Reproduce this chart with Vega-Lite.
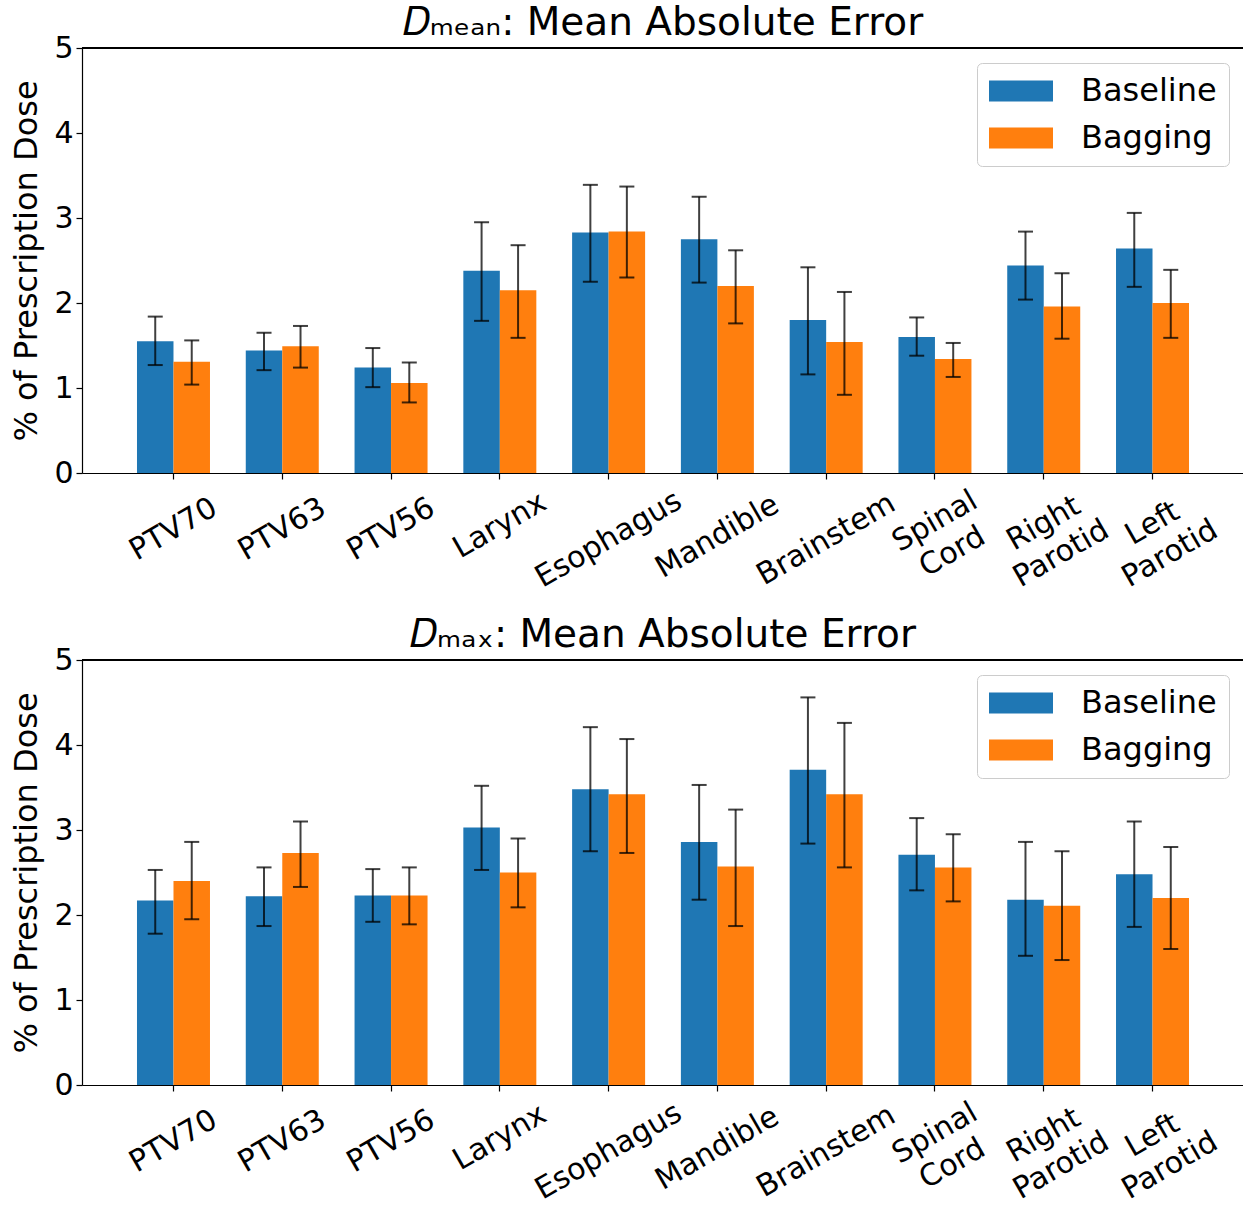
{
  "$schema": "https://vega.github.io/schema/vega-lite/v6.json",
  "padding": {"left": 10, "top": 4, "right": 0, "bottom": 0},
  "spacing": 23,
  "config": {
    "view": {"stroke": null},
    "font": "DejaVu Sans",
    "axisY": {"grid": false, "domainColor": "black", "domainWidth": 1.2, "tickColor": "black", "tickWidth": 1.2, "tickSize": 6, "labelPadding": 3, "labelFontSize": 30, "labelColor": "black", "labelFont": "DejaVu Sans", "titleFontSize": 32, "titleFontWeight": "normal", "titleColor": "black", "titleFont": "DejaVu Sans", "titlePadding": 10},
    "title": {"fontSize": 39, "fontWeight": "normal", "font": "DejaVu Sans", "color": "black", "anchor": "middle", "baseline": "alphabetic", "offset": -10, "frame": "group"}
  },
  "resolve": {"legend": {"color": "independent"}},
  "datasets": {
    "d": [
      {"panel": "Dmean", "organ": "PTV70", "method": "Baseline", "mean": 1.55, "lo": 1.27, "hi": 1.84},
      {"panel": "Dmean", "organ": "PTV70", "method": "Bagging", "mean": 1.31, "lo": 1.04, "hi": 1.56},
      {"panel": "Dmean", "organ": "PTV63", "method": "Baseline", "mean": 1.44, "lo": 1.21, "hi": 1.65},
      {"panel": "Dmean", "organ": "PTV63", "method": "Bagging", "mean": 1.49, "lo": 1.24, "hi": 1.73},
      {"panel": "Dmean", "organ": "PTV56", "method": "Baseline", "mean": 1.24, "lo": 1.01, "hi": 1.47},
      {"panel": "Dmean", "organ": "PTV56", "method": "Bagging", "mean": 1.06, "lo": 0.83, "hi": 1.30},
      {"panel": "Dmean", "organ": "Larynx", "method": "Baseline", "mean": 2.38, "lo": 1.79, "hi": 2.95},
      {"panel": "Dmean", "organ": "Larynx", "method": "Bagging", "mean": 2.15, "lo": 1.59, "hi": 2.68},
      {"panel": "Dmean", "organ": "Esophagus", "method": "Baseline", "mean": 2.83, "lo": 2.25, "hi": 3.39},
      {"panel": "Dmean", "organ": "Esophagus", "method": "Bagging", "mean": 2.84, "lo": 2.30, "hi": 3.37},
      {"panel": "Dmean", "organ": "Mandible", "method": "Baseline", "mean": 2.75, "lo": 2.24, "hi": 3.25},
      {"panel": "Dmean", "organ": "Mandible", "method": "Bagging", "mean": 2.20, "lo": 1.76, "hi": 2.62},
      {"panel": "Dmean", "organ": "Brainstem", "method": "Baseline", "mean": 1.80, "lo": 1.16, "hi": 2.42},
      {"panel": "Dmean", "organ": "Brainstem", "method": "Bagging", "mean": 1.54, "lo": 0.92, "hi": 2.13},
      {"panel": "Dmean", "organ": "Spinal Cord", "method": "Baseline", "mean": 1.60, "lo": 1.38, "hi": 1.83},
      {"panel": "Dmean", "organ": "Spinal Cord", "method": "Bagging", "mean": 1.34, "lo": 1.13, "hi": 1.53},
      {"panel": "Dmean", "organ": "Right Parotid", "method": "Baseline", "mean": 2.44, "lo": 2.04, "hi": 2.84},
      {"panel": "Dmean", "organ": "Right Parotid", "method": "Bagging", "mean": 1.96, "lo": 1.58, "hi": 2.35},
      {"panel": "Dmean", "organ": "Left Parotid", "method": "Baseline", "mean": 2.64, "lo": 2.19, "hi": 3.06},
      {"panel": "Dmean", "organ": "Left Parotid", "method": "Bagging", "mean": 2.00, "lo": 1.59, "hi": 2.39},
      {"panel": "Dmax", "organ": "PTV70", "method": "Baseline", "mean": 2.17, "lo": 1.78, "hi": 2.53},
      {"panel": "Dmax", "organ": "PTV70", "method": "Bagging", "mean": 2.40, "lo": 1.95, "hi": 2.86},
      {"panel": "Dmax", "organ": "PTV63", "method": "Baseline", "mean": 2.22, "lo": 1.87, "hi": 2.56},
      {"panel": "Dmax", "organ": "PTV63", "method": "Bagging", "mean": 2.73, "lo": 2.33, "hi": 3.10},
      {"panel": "Dmax", "organ": "PTV56", "method": "Baseline", "mean": 2.23, "lo": 1.92, "hi": 2.54},
      {"panel": "Dmax", "organ": "PTV56", "method": "Bagging", "mean": 2.23, "lo": 1.89, "hi": 2.56},
      {"panel": "Dmax", "organ": "Larynx", "method": "Baseline", "mean": 3.03, "lo": 2.53, "hi": 3.52},
      {"panel": "Dmax", "organ": "Larynx", "method": "Bagging", "mean": 2.50, "lo": 2.09, "hi": 2.90},
      {"panel": "Dmax", "organ": "Esophagus", "method": "Baseline", "mean": 3.48, "lo": 2.75, "hi": 4.21},
      {"panel": "Dmax", "organ": "Esophagus", "method": "Bagging", "mean": 3.42, "lo": 2.73, "hi": 4.07},
      {"panel": "Dmax", "organ": "Mandible", "method": "Baseline", "mean": 2.86, "lo": 2.18, "hi": 3.53},
      {"panel": "Dmax", "organ": "Mandible", "method": "Bagging", "mean": 2.57, "lo": 1.87, "hi": 3.24},
      {"panel": "Dmax", "organ": "Brainstem", "method": "Baseline", "mean": 3.71, "lo": 2.84, "hi": 4.56},
      {"panel": "Dmax", "organ": "Brainstem", "method": "Bagging", "mean": 3.42, "lo": 2.56, "hi": 4.26},
      {"panel": "Dmax", "organ": "Spinal Cord", "method": "Baseline", "mean": 2.71, "lo": 2.29, "hi": 3.14},
      {"panel": "Dmax", "organ": "Spinal Cord", "method": "Bagging", "mean": 2.56, "lo": 2.16, "hi": 2.95},
      {"panel": "Dmax", "organ": "Right Parotid", "method": "Baseline", "mean": 2.18, "lo": 1.52, "hi": 2.86},
      {"panel": "Dmax", "organ": "Right Parotid", "method": "Bagging", "mean": 2.11, "lo": 1.47, "hi": 2.75},
      {"panel": "Dmax", "organ": "Left Parotid", "method": "Baseline", "mean": 2.48, "lo": 1.86, "hi": 3.10},
      {"panel": "Dmax", "organ": "Left Parotid", "method": "Bagging", "mean": 2.20, "lo": 1.60, "hi": 2.80}
    ]
  },
  "vconcat": [
    {
      "width": 1162, "height": 425,
      "title": {"text": "𝐷ₘₑₐₙ: Mean Absolute Error"},
      "data": {"name": "d"},
      "transform": [{"filter": "datum.panel == 'Dmean'"}],
      "layer": [
        {"mark": {"type": "bar"},
         "encoding": {
           "x": {"field": "organ", "type": "nominal", "sort": ["PTV70", "PTV63", "PTV56", "Larynx", "Esophagus", "Mandible", "Brainstem", "Spinal Cord", "Right Parotid", "Left Parotid"],
             "scale": {"paddingInner": 0.329, "paddingOuter": 0.5055},
             "axis": {"title": null, "labelAngle": -30, "labelAlign": "center", "labelBaseline": "middle", "labelFontSize": 30, "labelColor": "black", "labelFont": "DejaVu Sans", "labelOverlap": false, "labelBound": false, "labelLineHeight": 35, "labelExpr": "split(datum.label, ' ')", "domainColor": "black", "domainWidth": 1.2, "tickColor": "black", "tickWidth": 1.2, "tickSize": 6,
               "labelPadding": {"condition": [
                 {"test": "datum.value == 'Esophagus'", "value": 60},
                 {"test": "datum.value == 'Mandible'", "value": 57},
                 {"test": "datum.value == 'Brainstem'", "value": 60},
                 {"test": "datum.value == 'Larynx'", "value": 46},
                 {"test": "datum.value == 'Spinal Cord'", "value": 42},
                 {"test": "indexof(datum.value, ' ') > 0", "value": 44}
               ], "value": 50}}},
           "xOffset": {"field": "method", "type": "nominal", "sort": ["Baseline", "Bagging"], "scale": {"paddingInner": 0, "paddingOuter": 0}},
           "y": {"field": "mean", "type": "quantitative", "title": "% of Prescription Dose", "scale": {"domain": [0, 5], "nice": false}, "axis": {"values": [0, 1, 2, 3, 4, 5], "format": "d"}},
           "color": {"field": "method", "type": "nominal", "scale": {"domain": ["Baseline", "Bagging"], "range": ["#1f77b4", "#ff7f0e"]},
             "legend": {"orient": "top-right", "offset": 15, "title": null, "symbolType": "M-2,-0.66H2V0.66H-2Z", "symbolSize": 1024, "symbolStrokeWidth": 0, "labelFontSize": 32, "labelColor": "black", "labelFont": "DejaVu Sans", "padding": 12, "symbolOffset": 16, "labelOffset": 44, "rowPadding": 15, "fillColor": "white", "strokeColor": "#cccccc", "cornerRadius": 5}}
         }},
        {"mark": {"type": "rule", "color": "black", "opacity": 0.75, "strokeWidth": 2},
         "encoding": {
           "x": {"field": "organ", "type": "nominal", "sort": ["PTV70", "PTV63", "PTV56", "Larynx", "Esophagus", "Mandible", "Brainstem", "Spinal Cord", "Right Parotid", "Left Parotid"]},
           "xOffset": {"field": "method", "type": "nominal", "sort": ["Baseline", "Bagging"]},
           "y": {"field": "lo", "type": "quantitative", "title": "% of Prescription Dose"}, "y2": {"field": "hi"}}},
        {"mark": {"type": "tick", "orient": "horizontal", "size": 15, "thickness": 2, "color": "black", "opacity": 0.75},
         "encoding": {
           "x": {"field": "organ", "type": "nominal", "sort": ["PTV70", "PTV63", "PTV56", "Larynx", "Esophagus", "Mandible", "Brainstem", "Spinal Cord", "Right Parotid", "Left Parotid"]},
           "xOffset": {"field": "method", "type": "nominal", "sort": ["Baseline", "Bagging"]},
           "y": {"field": "lo", "type": "quantitative", "title": "% of Prescription Dose"}}},
        {"mark": {"type": "tick", "orient": "horizontal", "size": 15, "thickness": 2, "color": "black", "opacity": 0.75},
         "encoding": {
           "x": {"field": "organ", "type": "nominal", "sort": ["PTV70", "PTV63", "PTV56", "Larynx", "Esophagus", "Mandible", "Brainstem", "Spinal Cord", "Right Parotid", "Left Parotid"]},
           "xOffset": {"field": "method", "type": "nominal", "sort": ["Baseline", "Bagging"]},
           "y": {"field": "hi", "type": "quantitative", "title": "% of Prescription Dose"}}},
        {"mark": {"type": "rule", "color": "black", "strokeWidth": 1.2},
         "encoding": {"y": {"datum": 5, "type": "quantitative", "title": "% of Prescription Dose"}}}
      ]
    },
    {
      "width": 1162, "height": 425,
      "title": {"text": "𝐷ₘₐₓ: Mean Absolute Error"},
      "data": {"name": "d"},
      "transform": [{"filter": "datum.panel == 'Dmax'"}],
      "layer": [
        {"mark": {"type": "bar"},
         "encoding": {
           "x": {"field": "organ", "type": "nominal", "sort": ["PTV70", "PTV63", "PTV56", "Larynx", "Esophagus", "Mandible", "Brainstem", "Spinal Cord", "Right Parotid", "Left Parotid"],
             "scale": {"paddingInner": 0.329, "paddingOuter": 0.5055},
             "axis": {"title": null, "labelAngle": -30, "labelAlign": "center", "labelBaseline": "middle", "labelFontSize": 30, "labelColor": "black", "labelFont": "DejaVu Sans", "labelOverlap": false, "labelBound": false, "labelLineHeight": 35, "labelExpr": "split(datum.label, ' ')", "domainColor": "black", "domainWidth": 1.2, "tickColor": "black", "tickWidth": 1.2, "tickSize": 6,
               "labelPadding": {"condition": [
                 {"test": "datum.value == 'Esophagus'", "value": 60},
                 {"test": "datum.value == 'Mandible'", "value": 57},
                 {"test": "datum.value == 'Brainstem'", "value": 60},
                 {"test": "datum.value == 'Larynx'", "value": 46},
                 {"test": "datum.value == 'Spinal Cord'", "value": 42},
                 {"test": "indexof(datum.value, ' ') > 0", "value": 44}
               ], "value": 50}}},
           "xOffset": {"field": "method", "type": "nominal", "sort": ["Baseline", "Bagging"], "scale": {"paddingInner": 0, "paddingOuter": 0}},
           "y": {"field": "mean", "type": "quantitative", "title": "% of Prescription Dose", "scale": {"domain": [0, 5], "nice": false}, "axis": {"values": [0, 1, 2, 3, 4, 5], "format": "d"}},
           "color": {"field": "method", "type": "nominal", "scale": {"domain": ["Baseline", "Bagging"], "range": ["#1f77b4", "#ff7f0e"]},
             "legend": {"orient": "top-right", "offset": 15, "title": null, "symbolType": "M-2,-0.66H2V0.66H-2Z", "symbolSize": 1024, "symbolStrokeWidth": 0, "labelFontSize": 32, "labelColor": "black", "labelFont": "DejaVu Sans", "padding": 12, "symbolOffset": 16, "labelOffset": 44, "rowPadding": 15, "fillColor": "white", "strokeColor": "#cccccc", "cornerRadius": 5}}
         }},
        {"mark": {"type": "rule", "color": "black", "opacity": 0.75, "strokeWidth": 2},
         "encoding": {
           "x": {"field": "organ", "type": "nominal", "sort": ["PTV70", "PTV63", "PTV56", "Larynx", "Esophagus", "Mandible", "Brainstem", "Spinal Cord", "Right Parotid", "Left Parotid"]},
           "xOffset": {"field": "method", "type": "nominal", "sort": ["Baseline", "Bagging"]},
           "y": {"field": "lo", "type": "quantitative", "title": "% of Prescription Dose"}, "y2": {"field": "hi"}}},
        {"mark": {"type": "tick", "orient": "horizontal", "size": 15, "thickness": 2, "color": "black", "opacity": 0.75},
         "encoding": {
           "x": {"field": "organ", "type": "nominal", "sort": ["PTV70", "PTV63", "PTV56", "Larynx", "Esophagus", "Mandible", "Brainstem", "Spinal Cord", "Right Parotid", "Left Parotid"]},
           "xOffset": {"field": "method", "type": "nominal", "sort": ["Baseline", "Bagging"]},
           "y": {"field": "lo", "type": "quantitative", "title": "% of Prescription Dose"}}},
        {"mark": {"type": "tick", "orient": "horizontal", "size": 15, "thickness": 2, "color": "black", "opacity": 0.75},
         "encoding": {
           "x": {"field": "organ", "type": "nominal", "sort": ["PTV70", "PTV63", "PTV56", "Larynx", "Esophagus", "Mandible", "Brainstem", "Spinal Cord", "Right Parotid", "Left Parotid"]},
           "xOffset": {"field": "method", "type": "nominal", "sort": ["Baseline", "Bagging"]},
           "y": {"field": "hi", "type": "quantitative", "title": "% of Prescription Dose"}}},
        {"mark": {"type": "rule", "color": "black", "strokeWidth": 1.2},
         "encoding": {"y": {"datum": 5, "type": "quantitative", "title": "% of Prescription Dose"}}}
      ]
    }
  ]
}
